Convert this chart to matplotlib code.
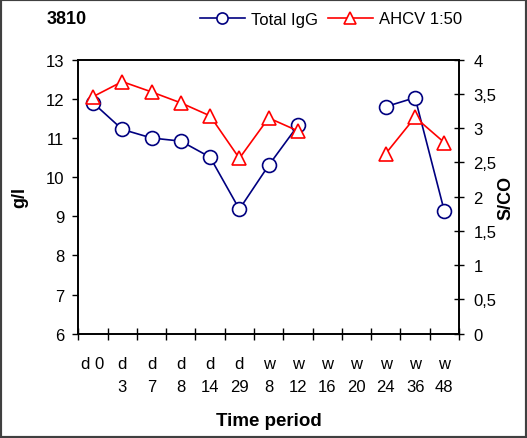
import matplotlib
matplotlib.use("Agg")
import matplotlib.pyplot as plt
import numpy as np
from matplotlib.lines import Line2D
from matplotlib.patches import Rectangle

plt.rcParams['font.family'] = ['Liberation Sans', 'DejaVu Sans']

categories = ["d 0", "d\n3", "d\n7", "d\n8", "d\n14", "d\n29", "w\n8", "w\n12",
              "w\n16", "w\n20", "w\n24", "w\n36", "w\n48"]
total_igg = [11.90, 11.22, 11.00, 10.92, 10.51, 9.18, 10.30, 11.32,
             np.nan, np.nan, 11.80, 12.03, 9.13]
ahcv = [3.46, 3.68, 3.53, 3.37, 3.18, 2.56, 3.15, 2.96,
        np.nan, np.nan, 2.63, 3.16, 2.79]
left_ticks = [6, 7, 8, 9, 10, 11, 12, 13]
right_ticks = [0, 0.5, 1, 1.5, 2, 2.5, 3, 3.5, 4]
right_labels = ["0", "0,5", "1", "1,5", "2", "2,5", "3", "3,5", "4"]

W, H = 527, 439
fig = plt.figure(figsize=(W / 100, H / 100), dpi=100)
ax = fig.add_axes([78.3 / W, 1 - 334.7 / H, (459 - 78.3) / W, (334.7 - 60.7) / H])
ax2 = ax.twinx()

x = np.arange(len(categories))
navy = '#000080'
red = '#FF0000'
ax.plot(x, total_igg, color=navy, lw=1.2, marker='o', ms=10, mfc='white',
        mec=navy, mew=1.2, zorder=3)
ax2.plot(x, ahcv, color=red, lw=1.2, marker='^', ms=10.5, mfc='white',
         mec=red, mew=1.2, zorder=3)

ax.set_xlim(-0.5, len(categories) - 0.5)
ax.set_ylim(6, 13)
ax2.set_ylim(0, 4)

ax.set_yticks(left_ticks)
ax.set_yticklabels([str(t) for t in left_ticks])
ax2.set_yticks(right_ticks)
ax2.set_yticklabels(right_labels)

ax.set_xticks(np.arange(-0.5, len(categories), 1.0))
ax.set_xticklabels([])
ax.set_xticks(x, minor=True)
ax.set_xticklabels(categories, minor=True, fontsize=12, linespacing=1.7)
ax.tick_params(axis='x', which='major', direction='inout', length=8, width=1, color='black')
ax.tick_params(axis='x', which='minor', length=0, pad=16)
ax.tick_params(axis='y', which='major', direction='out', length=4, width=1, labelsize=12, pad=6)
ax2.tick_params(axis='y', which='major', direction='inout', length=7, width=1, labelsize=12, pad=7)

for a in (ax, ax2):
    for s in a.spines.values():
        s.set_color('black')
        s.set_linewidth(1.2)

ax.set_xlabel("Time period", fontsize=13.5, fontweight='bold')
ax.xaxis.set_label_coords(0.5, -(421 - 334.7) / (334.7 - 60.7))
ax.xaxis.label.set_va('center')
ax.set_ylabel("g/l", fontsize=13, fontweight='bold')
ax.yaxis.set_label_coords(-(78.3 - 20) / (459 - 78.3), 0.5)
ax2.set_ylabel("S/CO", fontsize=13, fontweight='bold')
ax2.yaxis.set_label_coords((506 - 78.3) / (459 - 78.3), 0.5)
ax.yaxis.label.set_va('center')
ax2.yaxis.label.set_va('center')

fig.text(47 / W, 1 - 20 / H, "3810", fontsize=13, fontweight='bold', va='center', ha='left')

handles = [Line2D([], [], color=navy, lw=1.2, marker='o', ms=8, mfc='white', mec=navy, mew=1.2),
           Line2D([], [], color=red, lw=1.2, marker='^', ms=9, mfc='white', mec=red, mew=1.2)]
fig.legend(handles, ["Total IgG", "AHCV 1:50"], loc='center', ncol=2, frameon=False,
           bbox_to_anchor=(331 / W, 1 - 20 / H), fontsize=12, handlelength=2.7,
           handletextpad=0.4, columnspacing=0.55, borderaxespad=0, borderpad=0)

fig.patches.append(Rectangle((0, 0), 1, 1, transform=fig.transFigure, fill=False,
                             edgecolor='#404040', lw=3, zorder=10))

fig.savefig("out.png", dpi=100)
